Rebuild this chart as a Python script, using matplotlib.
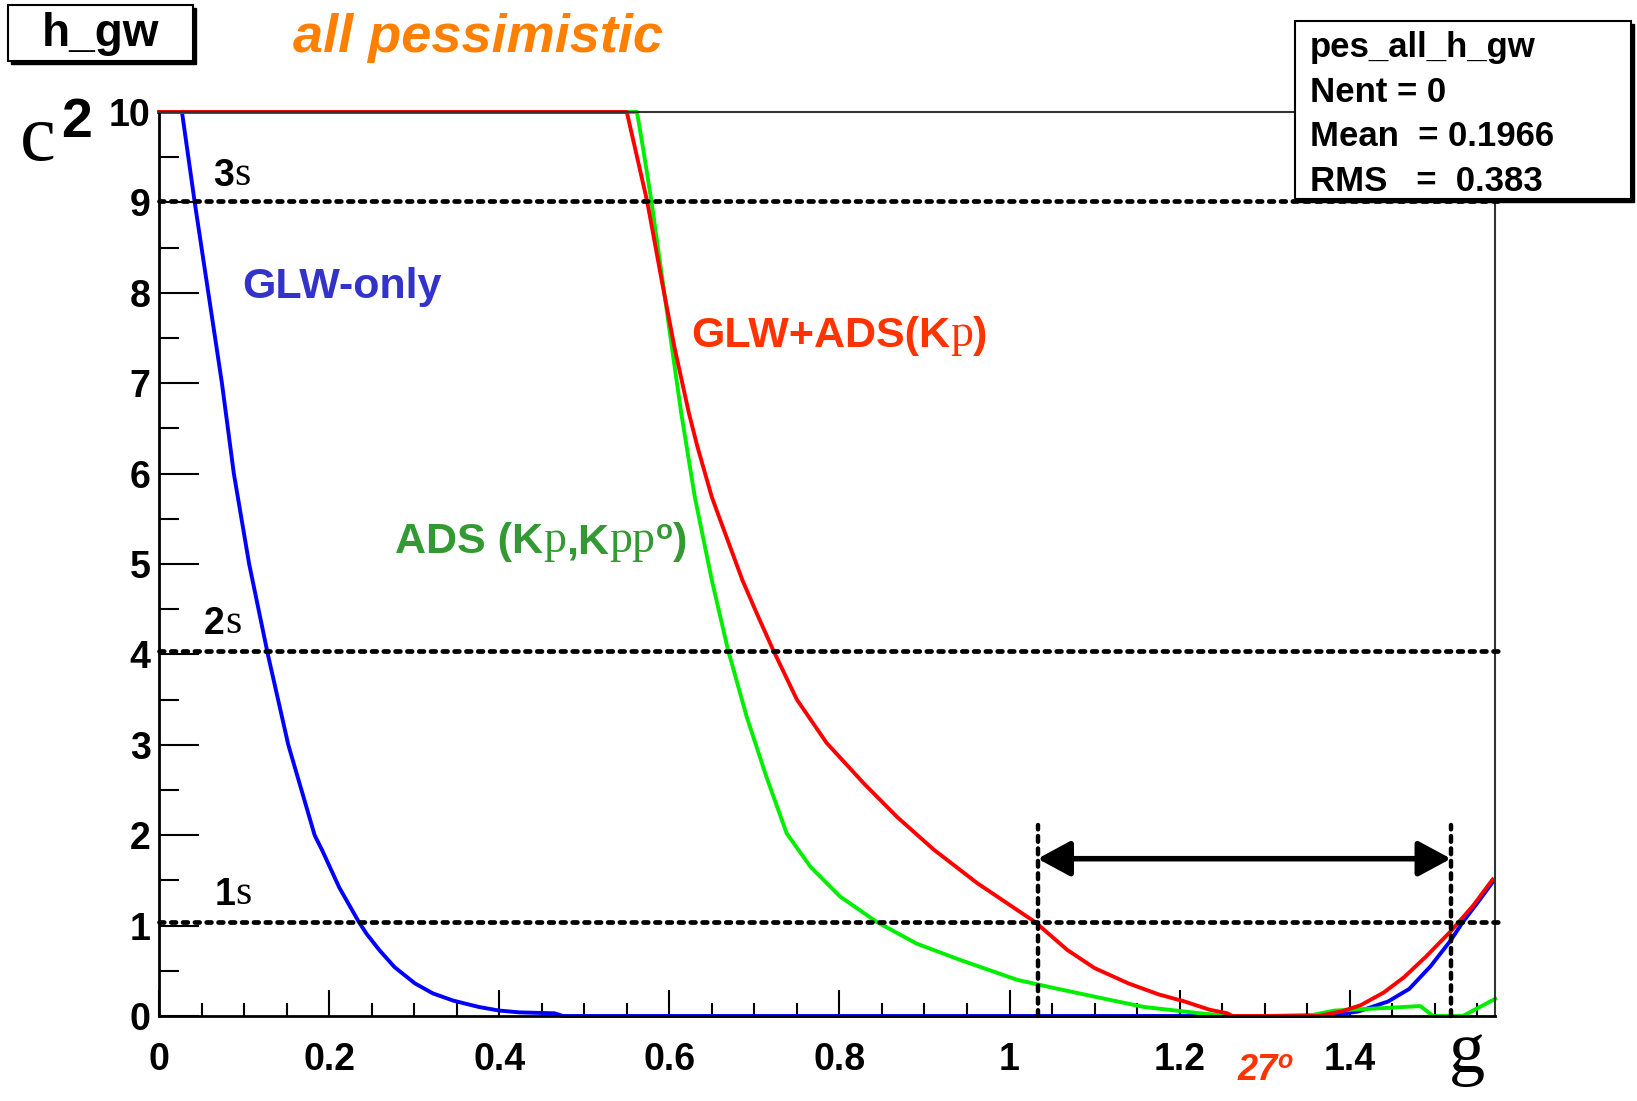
import numpy as np
import matplotlib.pyplot as plt
from matplotlib.patches import Rectangle
from matplotlib.ticker import MultipleLocator, FuncFormatter

SANS = ['Liberation Sans', 'DejaVu Sans']
SERIF = ['Liberation Serif', 'DejaVu Serif']
plt.rcParams['font.family'] = SANS
plt.rcParams['font.weight'] = 'bold'

# chi2 scan vs gamma (rad)
gam_glw = [0.027, 0.042, 0.058, 0.074, 0.088, 0.106, 0.128, 0.152, 0.183, 0.192, 0.212,
           0.235, 0.244, 0.259, 0.277, 0.301, 0.322, 0.346, 0.376, 0.400, 0.424, 0.465,
           0.475, 1.30, 1.38, 1.41, 1.445, 1.47, 1.495, 1.519, 1.533, 1.55, 1.568]
chi_glw = [10, 9, 8, 7, 6, 5, 4, 3, 2, 1.83, 1.42,
           1.04, 0.91, 0.73, 0.54, 0.36, 0.25, 0.17, 0.10, 0.06, 0.04, 0.03,
           0, 0, 0.01, 0.05, 0.16, 0.30, 0.55, 0.84, 1.04, 1.25, 1.48]

gam_ads = [0, 0.562, 0.570, 0.579, 0.592, 0.603, 0.614, 0.630, 0.650, 0.669,
           0.691, 0.714, 0.738, 0.766, 0.801, 0.844, 0.891, 0.942, 1.009, 1.052, 1.107,
           1.158, 1.224, 1.256, 1.35, 1.382, 1.445, 1.483, 1.498, 1.533, 1.571]
chi_ads = [10, 10, 9.55, 9.01, 8.14, 7.40, 6.67, 5.74, 4.82, 4.05,
           3.31, 2.65, 2.02, 1.65, 1.32, 1.04, 0.80, 0.62, 0.40, 0.31, 0.20,
           0.10, 0.03, 0, 0, 0.06, 0.09, 0.11, 0, 0, 0.19]

gam_comb = [0, 0.550, 0.574, 0.591, 0.606, 0.623, 0.633, 0.650, 0.657, 0.686, 0.703,
            0.722, 0.750, 0.785, 0.829, 0.868, 0.911, 0.962, 1.030, 1.068, 1.100, 1.140,
            1.175, 1.206, 1.235, 1.256, 1.262, 1.363, 1.390, 1.413, 1.440, 1.464, 1.49,
            1.519, 1.545, 1.568]
chi_comb = [10, 10, 9.01, 8.14, 7.40, 6.67, 6.30, 5.74, 5.56, 4.82, 4.45,
            4.05, 3.50, 3.02, 2.57, 2.20, 1.84, 1.47, 1.04, 0.73, 0.53, 0.36,
            0.24, 0.16, 0.07, 0.03, 0, 0, 0.05, 0.12, 0.26, 0.43, 0.66,
            0.94, 1.22, 1.51]

sigma_levels = [1.04, 4.04, 9.02]
sigma_names = ['1', '2', '3']
interval = [1.033, 1.519]
stats_lines = ['pes_all_h_gw', 'Nent = 0', 'Mean  = 0.1966', 'RMS   =  0.383']

W, H = 1637, 1101
fig = plt.figure(figsize=(W / 100, H / 100), dpi=100)


def fx(px):
    return px / W


def fy(py):
    return 1 - py / H


ax = fig.add_axes([fx(159), fy(1016), fx(1495) - fx(159), fy(112) - fy(1016)])

ax.plot(gam_glw, chi_glw, color='#0000ff', lw=2.8, clip_on=False, zorder=2)
ax.plot(gam_ads, chi_ads, color='#00ee00', lw=2.8, clip_on=False, zorder=2)
ax.plot(gam_comb, chi_comb, color='#ff0000', lw=2.8, clip_on=False, zorder=2)
ax.set_xlim(0, np.pi / 2)
ax.set_ylim(0, 10)

dots = (0, (1.0, 1.5))
for lev in sigma_levels:
    ax.plot([0, 1.578], [lev, lev], color='k', lw=3.4, ls=dots, dash_capstyle='round',
            clip_on=False, zorder=4)
for g in interval:
    ax.plot([g, g], [0, 2.11], color='k', lw=3.2, ls=(0, (1.3, 1.5)), dash_capstyle='round',
            clip_on=False, zorder=4)
ax.annotate('', xy=(interval[0], 1.74), xytext=(interval[1], 1.74),
            arrowprops=dict(arrowstyle='<|-|>,head_length=0.5,head_width=0.27',
                            color='k', lw=4, mutation_scale=40,
                            shrinkA=0, shrinkB=0), zorder=5)

# axes styling (ROOT look)
ax.xaxis.set_major_locator(MultipleLocator(0.2))
ax.xaxis.set_minor_locator(MultipleLocator(0.05))
ax.yaxis.set_major_locator(MultipleLocator(1))
ax.yaxis.set_minor_locator(MultipleLocator(0.5))
ax.xaxis.set_major_formatter(FuncFormatter(lambda v, p: '%g' % round(v, 2)))
ax.tick_params(axis='x', which='major', direction='in', length=19, width=1.5, pad=19,
               labelsize=27)
ax.tick_params(axis='x', which='minor', direction='in', length=9.5, width=1.5)
ax.tick_params(axis='y', which='major', direction='in', length=29, width=1.5, pad=6,
               labelsize=27)
ax.tick_params(axis='y', which='minor', direction='in', length=14.5, width=1.5)
for s in ['left', 'bottom']:
    ax.spines[s].set_linewidth(2)
for s in ['top', 'right']:
    ax.spines[s].set_linewidth(1.5)
    ax.spines[s].set_color('#333333')


def chain(x, y, parts):
    # parts: (text, props, rise in points)
    t = ax.text(x, y, parts[0][0], va='baseline', **parts[0][1])
    prev_rise = parts[0][2]
    for s, props, rise in parts[1:]:
        t = ax.annotate(s, xy=(1, 0), xycoords=t, xytext=(0, rise - prev_rise),
                        textcoords='offset points', va='bottom', **props)
        prev_rise = rise
    return t


serif = dict(family=SERIF, weight='normal')

# sigma labels
sig_pos = {'1': (0.065, 1.23), '2': (0.053, 4.23), '3': (0.064, 9.18)}
for name in sigma_names:
    x0, y0 = sig_pos[name]
    chain(x0, y0, [(name, dict(size=27, color='k'), 0),
                   ('s', dict(size=30, color='k', **serif), 0)])

# curve labels
c_glw = '#3333cc'
c_comb = '#ff3300'
c_ads = '#339933'
ax.text(0.098, 7.94, 'GLW-only', size=31, color=c_glw, va='baseline')
chain(0.626, 7.40, [('GLW+ADS(K', dict(size=31, color=c_comb), 0),
                    ('p', dict(size=33, color=c_comb, **serif), 0),
                    (')', dict(size=31, color=c_comb), 0)])
chain(0.278, 5.12, [('ADS (K', dict(size=31, color=c_ads), 0),
                    ('p', dict(size=33, color=c_ads, **serif), 0),
                    (',K', dict(size=31, color=c_ads), 0),
                    ('pp', dict(size=33, color=c_ads, **serif), 0),
                    ('o', dict(size=20, color=c_ads), 12),
                    (')', dict(size=31, color=c_ads), 0)])
chain(1.268, -0.71, [('27', dict(size=26, color=c_comb, style='italic'), 0),
                     ('o', dict(size=18, color=c_comb, style='italic'), 11)])

# axis titles (symbol font fell back to latin letters)
fig.text(fx(20), fy(160), 'c', size=58, va='baseline', **serif)
fig.text(fx(61), fy(137), '2', size=40, va='baseline')
fig.text(fx(1449), fy(1072), 'g', size=52, va='baseline', **serif)

# title boxes
fig.patches.append(Rectangle((fx(11), fy(64)), fx(185), fy(8) - fy(64), transform=fig.transFigure,
                             facecolor='k', edgecolor='k', zorder=5))
fig.patches.append(Rectangle((fx(8), fy(61)), fx(185), fy(5) - fy(61), transform=fig.transFigure,
                             facecolor='white', edgecolor='k', lw=1.5, zorder=6))
fig.text(fx(100), fy(34), 'h_gw', size=33, ha='center', va='center', zorder=7)

fig.text(fx(478), fy(52), 'all pessimistic', size=39, color='#ff8000', style='italic',
         ha='center', va='baseline')

# stats box
fig.patches.append(Rectangle((fx(1298), fy(202)), fx(336), fy(24) - fy(202), transform=fig.transFigure,
                             facecolor='k', edgecolor='k', zorder=5))
fig.patches.append(Rectangle((fx(1295), fy(199)), fx(336), fy(21) - fy(199), transform=fig.transFigure,
                             facecolor='white', edgecolor='k', lw=1.5, zorder=6))
for i, line in enumerate(stats_lines):
    fig.text(fx(1310), fy(57 + 44.5 * i), line, size=25, va='baseline', zorder=7)

fig.savefig('out.png', dpi=100, facecolor='white')
